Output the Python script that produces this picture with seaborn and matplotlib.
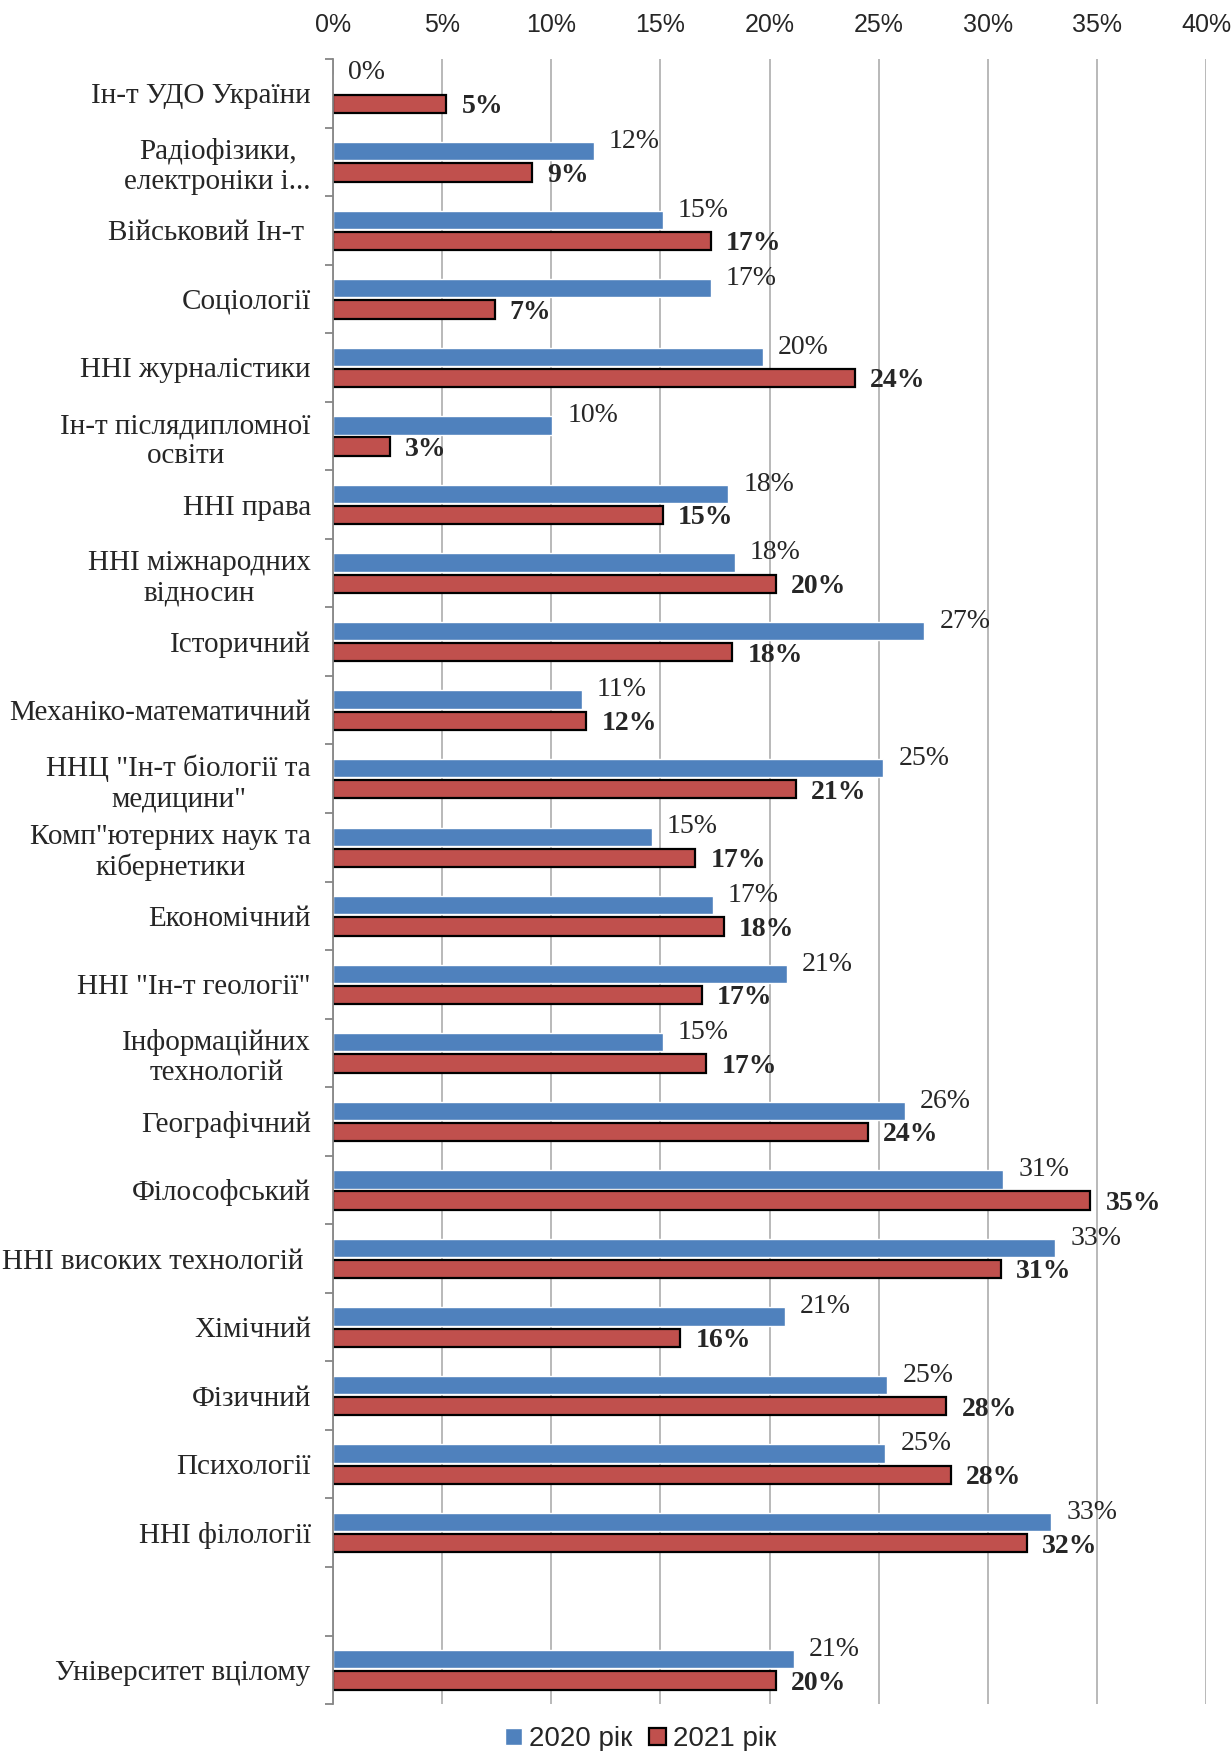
import pandas as pd
import matplotlib.pyplot as plt
import seaborn as sns
from matplotlib.ticker import FixedLocator, PercentFormatter

# Faculties (top to bottom), blank slot before the university total
faculties = [
    'Ін-т УДО України',
    'Радіофізики,\nелектроніки і...',
    'Військовий Ін-т ',
    'Соціології',
    'ННІ журналістики',
    'Ін-т післядипломної\nосвіти',
    'ННІ права',
    'ННІ міжнародних\nвідносин',
    'Історичний',
    'Механіко-математичний',
    'ННЦ "Ін-т біології та\nмедицини"',
    'Комп"ютерних наук та\nкібернетики',
    'Економічний',
    'ННІ "Ін-т геології"',
    'Інформаційних\nтехнологій',
    'Географічний',
    'Філософський',
    'ННІ високих технологій ',
    'Хімічний',
    'Фізичний',
    'Психології',
    'ННІ філології',
    'Університет вцілому',
]
blank = ' '
order = faculties[:-1] + [blank] + faculties[-1:]

years = ['2020 рік', '2021 рік']
share_2020 = [0.000, 0.1195, 0.151, 0.173, 0.197, 0.1005, 0.181, 0.184, 0.271, 0.114, 0.252,
              0.146, 0.174, 0.208, 0.151, 0.262, 0.307, 0.331, 0.207, 0.254, 0.253, 0.329, 0.211]
share_2021 = [0.052, 0.091, 0.173, 0.074, 0.239, 0.026, 0.151, 0.203, 0.183, 0.116, 0.212,
              0.166, 0.179, 0.169, 0.171, 0.245, 0.347, 0.306, 0.159, 0.281, 0.283, 0.318, 0.203]

df = pd.DataFrame({
    'faculty': faculties * 2,
    'year': [years[0]] * len(faculties) + [years[1]] * len(faculties),
    'share': share_2020 + share_2021,
})

sns.set_style('white')
plt.rcParams['font.family'] = ['Liberation Serif', 'DejaVu Serif']

fig = plt.figure(figsize=(12.32, 17.51), dpi=100)
ax = fig.add_axes([0.2703, 0.0268, 0.7086, 0.9395])

blue, red = '#4F81BD', '#C0504D'
sns.barplot(data=df, y='faculty', x='share', hue='year', order=order, hue_order=years,
            palette=[blue, red], orient='h', width=0.62, gap=0.14, saturation=1,
            errorbar=None, ax=ax)

for bar in ax.containers[1]:
    bar.set_edgecolor('black')
    bar.set_linewidth(1.6)

# data labels: 2020 plain, 2021 bold
for i, cont in enumerate(ax.containers):
    for bar in cont:
        w = bar.get_width()
        if pd.isna(w):
            continue
        yc = bar.get_y() + bar.get_height() / 2
        ax.annotate(f'{w * 100:.0f}%', (w, yc), xytext=(11, 7 if i == 0 else -2),
                    textcoords='offset points', ha='left', va='center',
                    fontsize=20, fontweight='normal' if i == 0 else 'bold')

ax.set_xlim(0, 0.40)
ax.set_ylim(len(order) - 0.5, -0.5)
ax.xaxis.tick_top()
ax.xaxis.set_major_locator(FixedLocator([i * 0.05 for i in range(9)]))
ax.xaxis.set_major_formatter(PercentFormatter(1.0, decimals=0))
ax.tick_params(axis='x', length=0, pad=16, labelsize=18)
for lab in ax.get_xticklabels():
    lab.set_fontfamily('Liberation Sans')
ax.grid(axis='x', color='#A6A6A6', linewidth=1.1)
ax.set_axisbelow(True)

ax.yaxis.set_minor_locator(FixedLocator([k - 0.5 for k in range(len(order) + 1)]))
ax.tick_params(axis='y', which='major', length=0, pad=16, labelsize=21)
ax.tick_params(axis='y', which='minor', length=6, width=1.3, color='#868686', direction='out', left=True)
for lab in ax.get_yticklabels():
    lab.set_multialignment('center')
    lab.set_linespacing(1.2)

for s in ['top', 'right', 'bottom']:
    ax.spines[s].set_visible(False)
ax.spines['left'].set_color('#868686')
ax.spines['left'].set_linewidth(1.3)
ax.set_xlabel('')
ax.set_ylabel('')

handles, labels = ax.get_legend_handles_labels()
ax.get_legend().remove()
leg = fig.legend(handles, labels, loc='lower center', bbox_to_anchor=(0.52, -0.015), ncol=2,
                 frameon=False, handlelength=0.6, handleheight=0.6, handletextpad=0.25,
                 columnspacing=0.6, prop={'family': 'Liberation Sans', 'size': 20})
leg.legend_handles[1].set_edgecolor('black')
leg.legend_handles[1].set_linewidth(1.6)

fig.savefig('out.png', dpi=100)
